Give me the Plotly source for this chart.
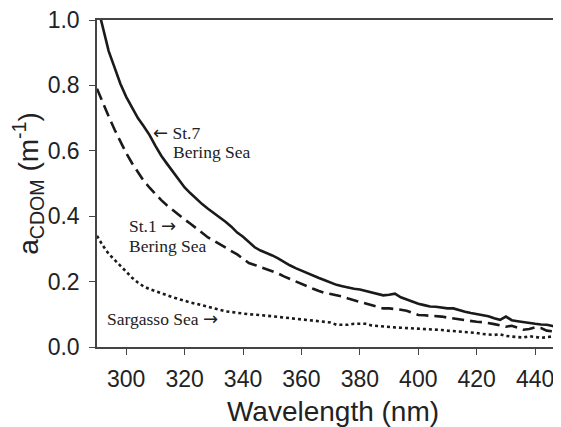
import plotly.graph_objects as go

# wavelength grid (nm)
wavelength = list(range(290, 452, 2))

# St.7 Bering Sea (solid)
st7_bering = [
    1.05, 0.975, 0.905, 0.855, 0.805, 0.765, 0.73, 0.70, 0.675, 0.648,
    0.615, 0.585, 0.56, 0.535, 0.51, 0.488, 0.47, 0.453, 0.437, 0.423,
    0.41, 0.397, 0.383, 0.368, 0.35, 0.337, 0.322, 0.305, 0.295, 0.288,
    0.28, 0.271, 0.26, 0.25, 0.241, 0.233, 0.225, 0.218, 0.211, 0.204,
    0.196, 0.19, 0.186, 0.181, 0.178, 0.176, 0.172, 0.167, 0.163, 0.158,
    0.16, 0.163, 0.152, 0.145, 0.14, 0.132, 0.128, 0.124, 0.123, 0.12,
    0.118, 0.118, 0.112, 0.108, 0.104, 0.101, 0.097, 0.094, 0.088, 0.083,
    0.093, 0.082, 0.079, 0.076, 0.072, 0.071, 0.069, 0.068, 0.064, 0.062,
    0.061,
]

# St.1 Bering Sea (dashed)
st1_bering = [
    0.79, 0.745, 0.705, 0.665, 0.628, 0.593, 0.562, 0.535, 0.508, 0.487,
    0.467, 0.449, 0.433, 0.418, 0.403, 0.39, 0.377, 0.363, 0.35, 0.335,
    0.325, 0.315, 0.305, 0.295, 0.283, 0.27, 0.257, 0.251, 0.245, 0.238,
    0.232, 0.225, 0.216, 0.208, 0.2, 0.193, 0.186, 0.178, 0.171, 0.165,
    0.162, 0.159, 0.154, 0.148, 0.143, 0.137, 0.131, 0.126, 0.122, 0.118,
    0.118, 0.117, 0.114, 0.111, 0.104, 0.098, 0.097, 0.096, 0.095, 0.093,
    0.09, 0.087, 0.085, 0.082, 0.08, 0.077, 0.076, 0.074, 0.07, 0.066,
    0.062, 0.065, 0.058, 0.053, 0.055, 0.06, 0.058, 0.05, 0.048, 0.047,
    0.05,
]

# Sargasso Sea (dotted)
sargasso = [
    0.34, 0.31, 0.285, 0.266, 0.248, 0.228, 0.212, 0.197, 0.185, 0.177,
    0.17, 0.164, 0.158, 0.152, 0.146, 0.141, 0.136, 0.132, 0.127, 0.123,
    0.119, 0.113, 0.109, 0.107, 0.104, 0.101, 0.1, 0.099, 0.098, 0.096,
    0.094, 0.092, 0.09, 0.089, 0.087, 0.085, 0.083, 0.081, 0.079, 0.077,
    0.075, 0.068, 0.067, 0.068, 0.071, 0.07, 0.071, 0.066, 0.064, 0.063,
    0.062, 0.06, 0.059, 0.058, 0.057, 0.056, 0.055, 0.054, 0.055, 0.052,
    0.05, 0.049, 0.048, 0.047, 0.045, 0.043, 0.04, 0.038, 0.037, 0.039,
    0.034, 0.032, 0.03, 0.029, 0.033, 0.031, 0.028, 0.03, 0.033, 0.036,
    0.037,
]

x_ticks = [300, 320, 340, 360, 380, 400, 420, 440]
y_ticks = [0.0, 0.2, 0.4, 0.6, 0.8, 1.0]

ink = "#1a1a1a"
fig = go.Figure()
fig.add_trace(go.Scatter(x=wavelength, y=st7_bering, mode="lines",
                         line=dict(color=ink, width=2.6, dash="solid")))
fig.add_trace(go.Scatter(x=wavelength, y=st1_bering, mode="lines",
                         line=dict(color=ink, width=2.6, dash="12px,6px")))
fig.add_trace(go.Scatter(x=wavelength, y=sargasso, mode="lines",
                         line=dict(color=ink, width=2.6, dash="dot")))

# thin arrows like in the original figure
larr = '<span style="font-family:DejaVu Sans;font-size:18px">\u2190</span>'
rarr = '<span style="font-family:DejaVu Sans;font-size:18px">\u2192</span>'
serif = dict(family="Liberation Serif", size=17.5, color="#222")
notes = [
    (308.6, 0.657, larr + " St.7"),
    (315.3, 0.596, "Bering Sea"),
    (300.4, 0.372, "St.1 " + rarr),
    (300.4, 0.310, "Bering Sea"),
    (292.7, 0.088, "Sargasso Sea " + rarr),
]
for nx, ny, txt in notes:
    fig.add_annotation(x=nx, y=ny, text=txt, showarrow=False,
                       xanchor="left", yanchor="middle", font=serif)

# the page body adds ~8px around the figure; the plot runs off the right edge
fig.update_layout(
    width=561, height=419,
    margin=dict(l=89, r=0, t=12, b=80),
    plot_bgcolor="white", paper_bgcolor="white",
    showlegend=False,
    font=dict(family="Liberation Sans", size=23, color="#222"),
)
fig.update_xaxes(
    range=[290, 451.6], tickvals=x_ticks, ticks="outside", ticklen=6,
    tickcolor="#444", showline=True, linecolor="#444", linewidth=1.5,
    mirror=True, showgrid=False, zeroline=False, ticklabelstandoff=5,
    automargin=False, ticklabeloverflow="allow",
    title=dict(text="Wavelength (nm)", standoff=17),
)
fig.update_yaxes(
    range=[0, 1.0], tickvals=y_ticks, tickformat=".1f", ticks="outside",
    ticklen=6, tickcolor="#444", showline=True, linecolor="#444",
    linewidth=1.5, showgrid=False, zeroline=False, ticklabelstandoff=5,
    automargin=False, ticklabeloverflow="allow",
    title=dict(text="a<sub>CDOM</sub> (m<sup>-1</sup>)", standoff=23),
)

fig.write_html("out.html")
